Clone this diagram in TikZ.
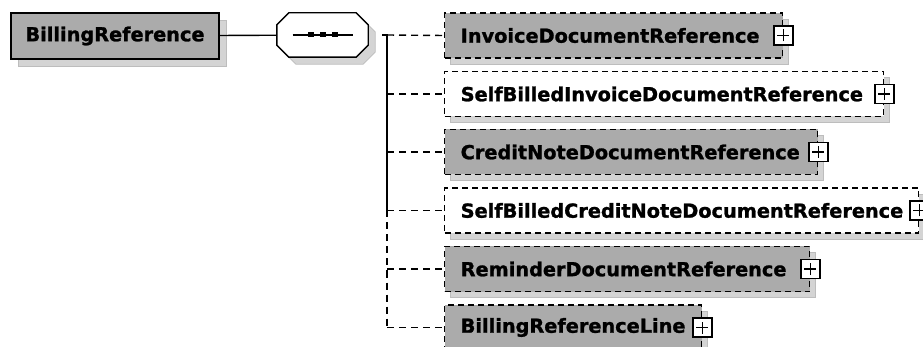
\documentclass[tikz,border=0pt]{standalone}
\usepackage{fontspec}
\setmainfont{DejaVu Sans}[BoldFeatures={FakeBold=1.3}]
\usepackage{xcolor}
\usetikzlibrary{positioning,shadows}
\definecolor{boxgray}{HTML}{ABABAB}
\definecolor{shadowgray}{HTML}{D4D4D4}
\definecolor{shadowedge}{HTML}{BDBDBD}
\tikzset{
  wire/.style={line width=1.4pt},
  link/.style={line width=1.4pt,dash pattern=on 7pt off 5pt},
  castshadow/.style={drop shadow={shadow xshift=#1,shadow yshift=-#1,
      fill=shadowgray,draw=shadowedge,solid,line width=0.8pt,opacity=1}},
  root/.style={draw,line width=2pt,fill=boxgray,minimum width=208pt,
      minimum height=46pt,castshadow=7pt},
  seqbox/.style={minimum width=91pt,minimum height=44pt,inner sep=0pt},
  element/.style={rectangle,draw,line width=1.4pt,dash pattern=on 6pt off 4pt,
      anchor=west,minimum height=45pt,inner xsep=16pt,text width=#1,
      align=left,castshadow=6pt},
  expand/.style={draw,fill=white,line width=1.2pt,minimum size=19pt,
      inner sep=0pt,
      path picture={
        \draw[line width=1.2pt] ([xshift=-6pt]path picture bounding box.center)
          -- ([xshift=6pt]path picture bounding box.center);
        \draw[line width=1.2pt] ([yshift=-6pt]path picture bounding box.center)
          -- ([yshift=6pt]path picture bounding box.center);
      }},
  every node/.style={font=\fontsize{19.3}{22}\selectfont\bfseries}
}

\begin{document}
\begin{tikzpicture}[x=1pt,y=-1pt]
  \clip (0,0) rectangle (923,347);
  % root element and its sequence
  \node[root] (billref) at (115,36) {BillingReference};
  \node[seqbox] (seqshade) at (329.5,42) {};
  \node[seqbox] (seq) at (322.5,35) {};
  \filldraw[fill=shadowgray,draw=shadowedge,line width=0.8pt]
    ([xshift=12pt]seqshade.north west) -- ([xshift=-12pt]seqshade.north east)
    -- ([yshift=-12pt]seqshade.north east) -- ([yshift=12pt]seqshade.south east)
    -- ([xshift=-12pt]seqshade.south east) -- ([xshift=12pt]seqshade.south west)
    -- ([yshift=12pt]seqshade.south west) -- ([yshift=-12pt]seqshade.north west)
    -- cycle;
  \filldraw[fill=white,line width=1.4pt]
    ([xshift=12pt]seq.north west) -- ([xshift=-12pt]seq.north east)
    -- ([yshift=-12pt]seq.north east) -- ([yshift=12pt]seq.south east)
    -- ([xshift=-12pt]seq.south east) -- ([xshift=12pt]seq.south west)
    -- ([yshift=12pt]seq.south west) -- ([yshift=-12pt]seq.north west)
    -- cycle;
  \draw[wire] ([xshift=-30pt]seq.center) -- ([xshift=30pt]seq.center);
  \foreach \dx in {-12,0,12}
    \fill ([xshift=\dx pt]seq.center) +(-3,-2.5) rectangle +(3,2.5);
  \draw[wire] (billref) -- (seq);

  % children of the sequence
  \node[element=306pt,fill=boxgray] (invoice) at (444,35.5) {InvoiceDocumentReference};
  \node[element=407pt,fill=white] (sbinvoice) at (444,94) {SelfBilledInvoiceDocumentReference};
  \node[element=341pt,fill=boxgray] (credit) at (444,152) {CreditNoteDocumentReference};
  \node[element=442pt,fill=white] (sbcredit) at (444,210.5) {SelfBilledCreditNoteDocumentReference};
  \node[element=333pt,fill=boxgray] (reminder) at (444,269) {ReminderDocumentReference};
  \node[element=225pt,fill=boxgray] (refline) at (444,327.5) {BillingReferenceLine};

  \foreach \el in {invoice,sbinvoice,credit,sbcredit,reminder,refline}
    \node[expand] (plus-\el) at (\el.east) {};

  % tree connectors
  \coordinate (stub) at (382,35);
  \coordinate (fork) at (387,35);
  \foreach \el in {sbinvoice,credit,sbcredit,reminder,refline}
    \coordinate (j-\el) at (fork |- \el.west);
  \draw[wire] (stub) -- (fork) -- (j-sbcredit);
  \draw[link] (j-sbcredit) -- (j-refline);
  \draw[link] (fork) -- (invoice.west);
  \foreach \el in {sbinvoice,credit,sbcredit,reminder,refline}
    \draw[link] (j-\el) -- (\el.west);
\end{tikzpicture}
\end{document}
